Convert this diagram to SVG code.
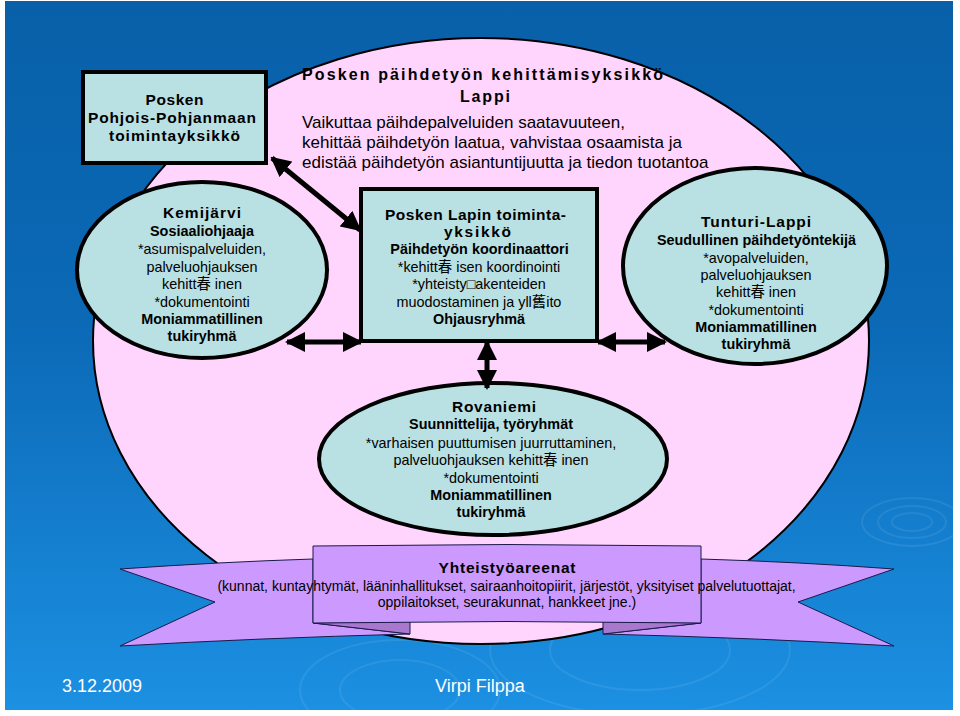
<svg xmlns="http://www.w3.org/2000/svg" width="960" height="716" viewBox="0 0 960 716">
<defs>
<linearGradient id="bg" x1="0" y1="0" x2="0" y2="1">
<stop offset="0" stop-color="#0860a8"/>
<stop offset="0.45" stop-color="#0b69b6"/>
<stop offset="1" stop-color="#1c90e2"/>
</linearGradient>
<marker id="ah" viewBox="0 0 10 10" refX="9" refY="5" markerWidth="20" markerHeight="20" markerUnits="userSpaceOnUse" orient="auto-start-reverse">
<path d="M0,0 L10,5 L0,10 z" fill="#000"/>
</marker>
<style>
text{font-family:"Liberation Sans","Noto Sans CJK SC",Arial,sans-serif;fill:#000;text-anchor:middle;font-size:14.4px}
.b{font-weight:bold}
.s{font-size:15.5px}
.t{font-size:17px;text-anchor:start}
.ft{fill:#fff;font-size:18px;text-anchor:start}
.node{fill:#b9e0e3;stroke:#000;stroke-width:4}
.rip{fill:none;stroke:#ffffff;stroke-opacity:0.08;stroke-width:2}
.con{stroke:#000;stroke-width:5;fill:none;marker-start:url(#ah);marker-end:url(#ah)}
.rib{fill:#cc99ff;stroke:#1a1a4a;stroke-width:1}
</style>
</defs>
<rect x="0" y="0" width="960" height="716" fill="#ffffff"/>
<rect x="5" y="1" width="948" height="709" fill="url(#bg)"/>
<g id="ripples">
<ellipse class="rip" cx="912" cy="522" rx="20" ry="9"/>
<ellipse class="rip" cx="912" cy="522" rx="34" ry="16"/>
<ellipse class="rip" cx="912" cy="522" rx="50" ry="24"/>
<ellipse class="rip" cx="640" cy="650" rx="90" ry="40"/>
<ellipse class="rip" cx="640" cy="650" rx="150" ry="65"/>
<ellipse class="rip" cx="400" cy="690" rx="60" ry="30"/>
<ellipse class="rip" cx="400" cy="690" rx="100" ry="50"/>
</g>
<g id="main">
<ellipse cx="481" cy="341" rx="388" ry="303" fill="#ffd4fd" stroke="#000" stroke-width="2"/>
</g>
<g id="title">
<text class="b" x="302" y="80" textLength="361" lengthAdjust="spacing" style="text-anchor:start;font-size:16px">Posken päihdetyön kehittämisyksikkö</text>
<text class="b" x="485" y="102" textLength="50" lengthAdjust="spacing" style="font-size:16px">Lappi</text>
<text class="t" x="302" y="128">Vaikuttaa päihdepalveluiden saatavuuteen,</text>
<text class="t" x="302" y="148">kehittää päihdetyön laatua, vahvistaa osaamista ja</text>
<text class="t" x="302" y="168">edistää päihdetyön asiantuntijuutta ja tiedon tuotantoa</text>
</g>
<g id="pohjois">
<rect class="node" x="83" y="72" width="183" height="91"/>
<text class="b s" x="174.5" y="105" textLength="58" lengthAdjust="spacing">Posken</text>
<text class="b s" x="172" y="123" textLength="168" lengthAdjust="spacing">Pohjois-Pohjanmaan</text>
<text class="b s" x="174.5" y="141" textLength="131" lengthAdjust="spacing">toimintayksikkö</text>
</g>
<g id="kemijarvi">
<ellipse class="node" cx="202" cy="270" rx="125" ry="88"/>
<text class="b s" x="202" y="218" textLength="78" lengthAdjust="spacing">Kemijärvi</text>
<text class="b" x="202" y="236">Sosiaaliohjaaja</text>
<text x="202" y="254">*asumispalveluiden,</text>
<text x="202" y="272">palveluohjauksen</text>
<text x="202" y="289">kehitt春 inen</text>
<text x="202" y="307">*dokumentointi</text>
<text class="b" x="202" y="324">Moniammatillinen</text>
<text class="b" x="202" y="341">tukiryhmä</text>
</g>
<g id="lappi">
<rect class="node" x="361" y="189" width="236" height="152"/>
<text class="b s" x="475.5" y="220" textLength="181" lengthAdjust="spacing">Posken Lapin toiminta-</text>
<text class="b s" x="477.5" y="237" textLength="67" lengthAdjust="spacing">yksikkö</text>
<text class="b" x="479.5" y="254">Päihdetyön koordinaattori</text>
<text x="479" y="272">*kehitt春 isen koordinointi</text>
<text x="479" y="289">*yhteisty□akenteiden</text>
<text x="479" y="307">muodostaminen ja yll舊ito</text>
<text class="b" x="479" y="324">Ohjausryhmä</text>
</g>
<g id="tunturi">
<ellipse class="node" cx="755" cy="266" rx="132" ry="98"/>
<text class="b s" x="756" y="227" textLength="110" lengthAdjust="spacing">Tunturi-Lappi</text>
<text class="b" x="756.5" y="245">Seudullinen päihdetyöntekijä</text>
<text x="756" y="263">*avopalveluiden,</text>
<text x="756" y="280">palveluohjauksen</text>
<text x="756" y="297">kehitt春 inen</text>
<text x="756" y="315">*dokumentointi</text>
<text class="b" x="756" y="332">Moniammatillinen</text>
<text class="b" x="756" y="349">tukiryhmä</text>
</g>
<g id="rovaniemi">
<ellipse class="node" cx="493" cy="459" rx="174" ry="76"/>
<text class="b s" x="494" y="412" textLength="84" lengthAdjust="spacing">Rovaniemi</text>
<text class="b" x="491" y="429">Suunnittelija, työryhmät</text>
<text x="491" y="448">*varhaisen puuttumisen juurruttaminen,</text>
<text x="491" y="465">palveluohjauksen kehitt春 inen</text>
<text x="491" y="483">*dokumentointi</text>
<text class="b" x="491" y="500">Moniammatillinen</text>
<text class="b" x="491" y="517">tukiryhmä</text>
</g>
<g id="connectors">
<line class="con" x1="272" y1="158" x2="360" y2="230"/>
<line class="con" x1="287" y1="342" x2="361" y2="342"/>
<line class="con" x1="598" y1="342" x2="665" y2="342"/>
<line class="con" x1="487" y1="342" x2="487" y2="388"/>
</g>
<g id="yhteistyo">
<path class="rib" d="M120,569 Q220,562 313,559 L313,623 L410,634 Q260,638 120,646 L215,602 Z"/>
<path class="rib" d="M894,569 Q800,562 701,559 L701,623 L603,634 Q760,638 894,646 L798,602 Z"/>
<path d="M313,623 L410,621 L410,634 Z" fill="#a878cc" stroke="#1a1a4a" stroke-width="1"/>
<path d="M701,623 L603,621 L603,634 Z" fill="#a878cc" stroke="#1a1a4a" stroke-width="1"/>
<path class="rib" d="M313,546 Q507,543 701,546 L701,623 Q507,620 313,623 Z"/>
<text class="b s" x="507" y="573" textLength="137" lengthAdjust="spacing">Yhteistyöareenat</text>
<text x="506.5" y="591" style="font-size:14px">(kunnat, kuntayhtymät, lääninhallitukset, sairaanhoitopiirit, järjestöt, yksityiset palvelutuottajat,</text>
<text x="507" y="607" style="font-size:14px">oppilaitokset, seurakunnat, hankkeet jne.)</text>
</g>
<g id="footer">
<text class="ft" x="62" y="692">3.12.2009</text>
<text class="ft" x="435" y="692">Virpi Filppa</text>
</g>
</svg>
